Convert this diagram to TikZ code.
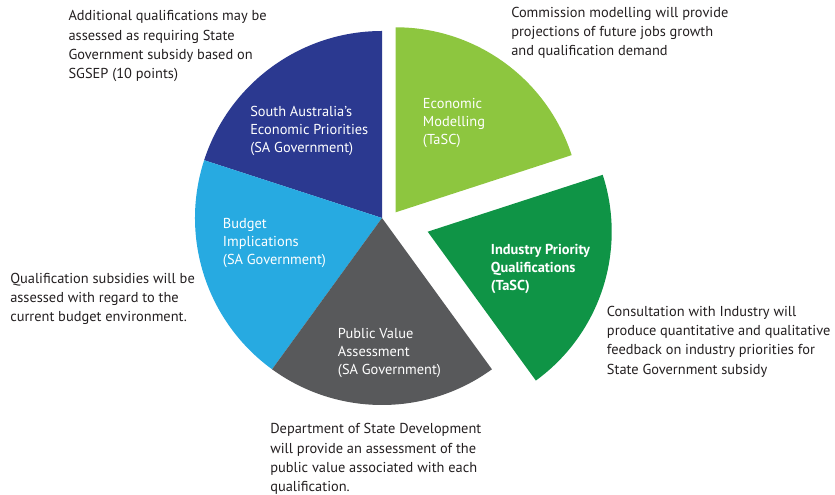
\documentclass[tikz,border=0pt]{standalone}
\usepackage{fontspec}
\setmainfont{PT Sans}
\definecolor{sadarkblue}{RGB}{43,57,144}
\definecolor{salightblue}{RGB}{39,170,225}
\definecolor{sagrey}{RGB}{88,89,91}
\definecolor{salightgreen}{RGB}{141,198,63}
\definecolor{sadarkgreen}{RGB}{15,148,70}
\definecolor{notetext}{RGB}{35,31,32}
\begin{document}
\begin{tikzpicture}[x=0.75pt,y=0.75pt,
  note/.style={anchor=base west, inner sep=0pt, align=left, text=notetext,
    font=\fontsize{10.8}{14.5}\selectfont},
  inlabel/.style={anchor=base west, inner sep=0pt, align=left, text=white,
    font=\fontsize{10.8}{13.7}\selectfont}]
\useasboundingbox (0,0) rectangle (835,495);

% pie slices (radius 187), the two TaSC slices pulled out
\coordinate (c) at (382,277);
\coordinate (cg1) at (395.7,282.7);
\coordinate (cg2) at (427.7,263.3);
\fill[sadarkblue]   (c) -- ++(90:187)  arc[start angle=90,  end angle=162, radius=187] -- cycle;
\fill[salightblue]  (c) -- ++(162:187) arc[start angle=162, end angle=234, radius=187] -- cycle;
\fill[sagrey]       (c) -- ++(234:187) arc[start angle=234, end angle=306, radius=187] -- cycle;
\fill[salightgreen] (cg1) -- ++(18:185) arc[start angle=18, end angle=90, radius=185] -- cycle;
\fill[sadarkgreen]  (cg2) -- ++(-54:184) arc[start angle=-54, end angle=18, radius=184] -- cycle;

% slice labels (anchored at the baseline of their last line)
\node[inlabel] (lsa)  at (250,342) {South Australia’s\\Economic Priorities\\(SA Government)};
\node[inlabel] (lbud) at (222.7,230) {Budget\\Implications\\(SA Government)};
\node[inlabel] (lpub) at (337.7,120) {Public Value\\Assessment\\(SA Government)};
\node[inlabel] (leco) at (422.7,350) {Economic\\Modelling\\(TaSC)};
\node[inlabel,font=\fontsize{10.8}{13.7}\selectfont\bfseries] (lind) at (490.7,204) {Industry Priority\\Qualifications\\(TaSC)};

% notes around the pie
\node[note] (ntl) at (68.3,416) {Additional qualifications may be\\assessed as requiring State\\Government subsidy based on\\SGSEP (10 points)};
\node[note] (ntr) at (511,439.3) {Commission modelling will provide\\projections of future jobs growth\\and qualification demand};
\node[note] (nl) at (10,173.3) {Qualification subsidies will be\\assessed with regard to the\\current budget environment.};
\node[note] (nr) at (606.7,120.7) {Consultation with Industry will\\produce quantitative and qualitative\\feedback on industry priorities for\\State Government subsidy};
\node[note] (nb) at (270,3.3) {Department of State Development\\will provide an assessment of the\\public value associated with each\\qualification.};
\end{tikzpicture}
\end{document}
